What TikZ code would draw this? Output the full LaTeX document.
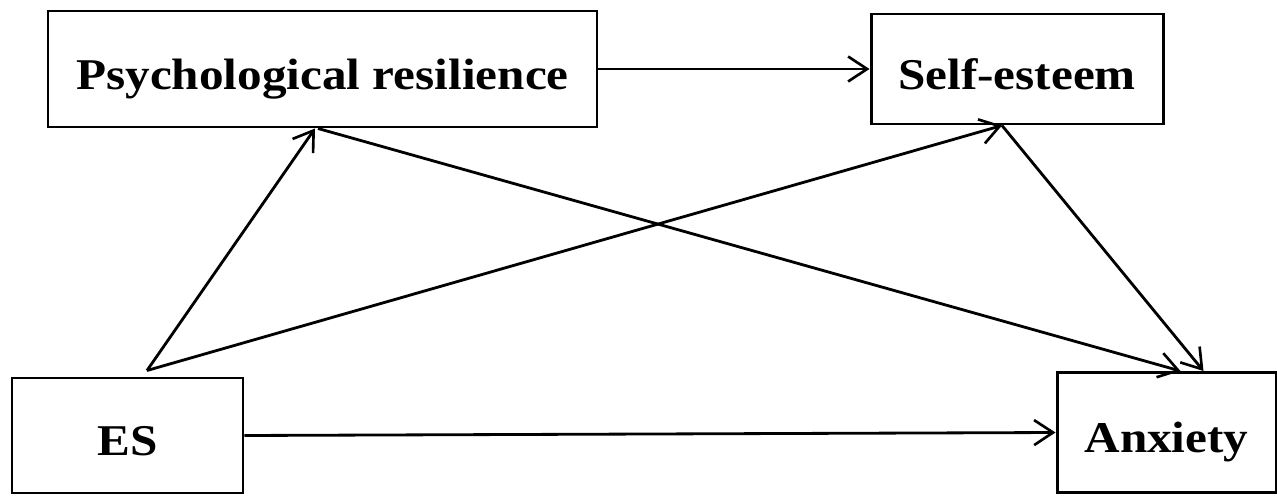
\documentclass[tikz,border=0pt]{standalone}
\usepackage{fontspec}
\newfontfamily\labfont[FakeStretch=1.12]{Liberation Serif}
\usetikzlibrary{arrows.meta,calc}
\begin{document}
\begin{tikzpicture}[
  box/.style={draw=black, line width=1.7pt, fill=white, inner sep=0pt,
    text height=1.0cm, text depth=0.2cm,
    font=\labfont\fontsize{25}{30}\selectfont\bfseries},
  arr/.style={draw=black, line width=1.6pt, -{Straight Barb[length=0.38cm,width=0.5cm,line width=1.5pt]}}
]
\useasboundingbox (0,0) rectangle (25.54,9.92);
\node[box, minimum width=10.98cm, minimum height=2.32cm] (psych) at (6.45,8.54) {Psychological resilience};
\node[box, minimum width=5.84cm, minimum height=2.2cm] (se) at (20.34,8.54) {Self-esteem};
\node[box, minimum width=4.62cm, minimum height=2.3cm] (es) at (2.55,1.21) {ES};
\node[box, minimum width=4.38cm, minimum height=2.4cm] (anx) at (23.33,1.27) {Anxiety};

\coordinate (apex) at ([xshift=0.39cm,yshift=0.12cm]es.north);
\coordinate (psB) at ([xshift=-0.15cm]psych.south);
\coordinate (psB2) at ([xshift=-0.09cm]psych.south);
\coordinate (seB) at ([xshift=-0.3cm]se.south);
\coordinate (anT1) at ([xshift=0.28cm]anx.north);
\coordinate (anT2) at ([xshift=0.74cm]anx.north);

\draw[arr] (psych.east) -- (se.west);
\draw[arr] (apex) -- (psB);
\draw[arr] (apex) -- (seB);
\draw[arr] (psB2) -- (anT1);
\draw[arr] (seB) -- (anT2);
\draw[arr] (es.east) -- (anx.west);
\end{tikzpicture}
\end{document}
